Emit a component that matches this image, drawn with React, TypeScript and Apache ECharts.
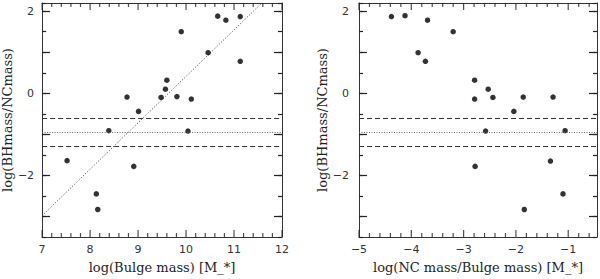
import React, { useEffect, useRef } from 'react';
import * as echarts from 'echarts';

// Left panel: log(Bulge mass) vs log(BHmass/NCmass)
const bulgeMass = [7.52, 8.13, 8.16, 8.39, 8.77, 8.91, 9.01, 9.48, 9.57, 9.6, 9.81, 9.9, 10.04, 10.11, 10.46, 10.66, 10.83, 11.13, 11.13];
const bhNcLeft = [-1.64, -2.45, -2.83, -0.91, -0.09, -1.78, -0.44, -0.1, 0.1, 0.32, -0.08, 1.5, -0.92, -0.14, 0.99, 1.88, 1.78, 1.87, 0.78];

// Right panel: log(NC mass/Bulge mass) vs log(BHmass/NCmass)
const ncBulge = [-4.38, -4.12, -3.69, -3.2, -3.87, -3.73, -2.79, -2.79, -2.53, -2.44, -1.86, -1.29, -2.04, -2.58, -1.06, -2.78, -1.34, -1.1, -1.84];
const bhNcRight = [1.87, 1.89, 1.78, 1.5, 0.99, 0.78, 0.32, -0.14, 0.1, -0.1, -0.09, -0.09, -0.44, -0.92, -0.91, -1.78, -1.65, -2.45, -2.83];

// Reference lines
const meanRatio = -0.95;
const upperRatio = -0.6;
const lowerRatio = -1.3;
const fitX = [7, 11.58];
const fitY = [-2.98, 2.2];

// Axes
const leftXRange = [7, 12];
const rightXRange = [-5, -0.45];
const yRange = [-3.5, 2.2];
const leftXTicks = [7, 8, 9, 10, 11, 12];
const rightXTicks = [-5, -4, -3, -2, -1];
const leftXMinor = [7.2, 7.4, 7.6, 7.8, 8.2, 8.4, 8.6, 8.8, 9.2, 9.4, 9.6, 9.8, 10.2, 10.4, 10.6, 10.8, 11.2, 11.4, 11.6, 11.8];
const rightXMinor = [-4.8, -4.6, -4.4, -4.2, -3.8, -3.6, -3.4, -3.2, -2.8, -2.6, -2.4, -2.2, -1.8, -1.6, -1.4, -1.2, -0.8, -0.6];
const yMajorTicks = [-3, -2, -1, 0, 1, 2];
const yLabels = [-2, 0, 2];
const yMinorStep = 0.5;

const FRAME = '#333';
const TICK = '#222';
const TICK_W = 1.2;
const fmt = (v: number) => (v < 0 ? '\u2212' + Math.abs(v) : String(v));

function xAxes(gridIndex: number, range: number[], ticks: number[], name: string) {
  const base = { type: 'value', gridIndex, min: range[0], max: range[1], splitLine: { show: false } };
  return [
    {
      ...base,
      position: 'bottom',
      axisLine: { show: true, onZero: false, lineStyle: { color: FRAME, width: 1 } },
      axisTick: { show: false },
      axisLabel: {
        show: true,
        customValues: ticks,
        formatter: fmt,
        margin: 7,
        fontFamily: 'DejaVu Sans',
        fontSize: 11,
        color: '#333',
      },
      name,
      nameLocation: 'middle',
      nameGap: 24,
      nameTextStyle: { fontFamily: 'DejaVu Serif', fontSize: 13, color: '#222' },
    },
    {
      ...base,
      position: 'top',
      axisLine: { show: true, onZero: false, lineStyle: { color: FRAME, width: 1 } },
      axisTick: { show: false },
      axisLabel: { show: false },
    },
  ];
}

function yAxes(gridIndex: number, nameGap: number, labelMargin: number) {
  const base = { type: 'value', gridIndex, min: yRange[0], max: yRange[1], splitLine: { show: false } };
  return [
    {
      ...base,
      position: 'left',
      axisLine: { show: true, onZero: false, lineStyle: { color: FRAME, width: 1 } },
      axisTick: { show: true, inside: true, length: 8, customValues: yMajorTicks, lineStyle: { color: TICK, width: TICK_W } },
      axisLabel: {
        show: true,
        customValues: yLabels,
        formatter: fmt,
        margin: labelMargin,
        fontFamily: 'DejaVu Sans',
        fontSize: 11,
        color: '#333',
      },
      name: 'log(BHmass/NCmass)',
      nameLocation: 'middle',
      nameRotate: 90,
      nameGap,
      nameTextStyle: { fontFamily: 'DejaVu Serif', fontSize: 13, color: '#222' },
    },
    {
      ...base,
      position: 'left',
      interval: yMinorStep,
      axisLine: { show: false, onZero: false },
      axisTick: { show: true, inside: true, length: 4, lineStyle: { color: TICK, width: TICK_W } },
      axisLabel: { show: false },
    },
    {
      ...base,
      position: 'right',
      axisLine: { show: true, onZero: false, lineStyle: { color: FRAME, width: 1 } },
      axisTick: { show: true, inside: true, length: 8, customValues: yMajorTicks, lineStyle: { color: TICK, width: TICK_W } },
      axisLabel: { show: false },
    },
    {
      ...base,
      position: 'right',
      interval: yMinorStep,
      axisLine: { show: false, onZero: false },
      axisTick: { show: true, inside: true, length: 4, lineStyle: { color: TICK, width: TICK_W } },
      axisLabel: { show: false },
    },
  ];
}

// x-axis tick marks on bottom and top edges, placed through the axis scales
function xTickSeries(xAxisIndex: number, yAxisIndex: number, values: number[], len: number) {
  const common = {
    type: 'scatter',
    xAxisIndex,
    yAxisIndex,
    symbol: 'rect',
    symbolSize: [TICK_W, len],
    clip: false,
    silent: true,
    itemStyle: { color: TICK },
    z: 4,
  };
  return [
    { ...common, symbolOffset: [0, -len / 2], data: values.map((v) => [v, yRange[0]]) },
    { ...common, symbolOffset: [0, len / 2], data: values.map((v) => [v, yRange[1]]) },
  ];
}

const refLines = {
  symbol: 'none',
  silent: true,
  label: { show: false },
  data: [
    { yAxis: upperRatio, lineStyle: { type: [5, 3], color: '#333', width: 1 } },
    { yAxis: meanRatio, lineStyle: { type: [1, 1.5], color: '#666', width: 1 } },
    { yAxis: lowerRatio, lineStyle: { type: [5, 3], color: '#333', width: 1 } },
  ],
};

export default function App() {
  const ref = useRef<HTMLDivElement>(null);
  useEffect(() => {
    if (!ref.current) return;
    const chart = echarts.init(ref.current, null, { renderer: 'svg' });
    chart.setOption({
      animation: false,
      backgroundColor: '#fff',
      grid: [
        { left: 42, right: 318, top: 3, bottom: 37 },
        { left: 359, right: 3, top: 3, bottom: 37 },
      ],
      xAxis: [
        ...xAxes(0, leftXRange, leftXTicks, 'log(Bulge mass) [M_*]'),
        ...xAxes(1, rightXRange, rightXTicks, 'log(NC mass/Bulge mass) [M_*]'),
      ],
      yAxis: [...yAxes(0, 28, 8), ...yAxes(1, 25, 10)],
      series: [
        ...xTickSeries(0, 0, leftXTicks, 7),
        ...xTickSeries(0, 0, leftXMinor, 4),
        ...xTickSeries(2, 4, rightXTicks, 7),
        ...xTickSeries(2, 4, rightXMinor, 4),
        {
          type: 'scatter',
          xAxisIndex: 0,
          yAxisIndex: 0,
          symbol: 'circle',
          symbolSize: 5.5,
          itemStyle: { color: '#000' },
          data: bulgeMass.map((x, i) => [x, bhNcLeft[i]]),
          markLine: refLines,
          z: 3,
        },
        {
          type: 'line',
          xAxisIndex: 0,
          yAxisIndex: 0,
          showSymbol: false,
          symbol: 'none',
          clip: true,
          lineStyle: { type: [1, 2], color: '#333', width: 1 },
          data: fitX.map((x, i) => [x, fitY[i]]),
        },
        {
          type: 'scatter',
          xAxisIndex: 2,
          yAxisIndex: 4,
          symbol: 'circle',
          symbolSize: 5.5,
          itemStyle: { color: '#000' },
          data: ncBulge.map((x, i) => [x, bhNcRight[i]]),
          markLine: refLines,
          z: 3,
        },
      ],
    });
    return () => chart.dispose();
  }, []);
  return (
    <div
      ref={ref}
      style={{ position: 'fixed', left: 0, top: 0, width: 600, height: 279, background: '#fff' }}
    />
  );
}
